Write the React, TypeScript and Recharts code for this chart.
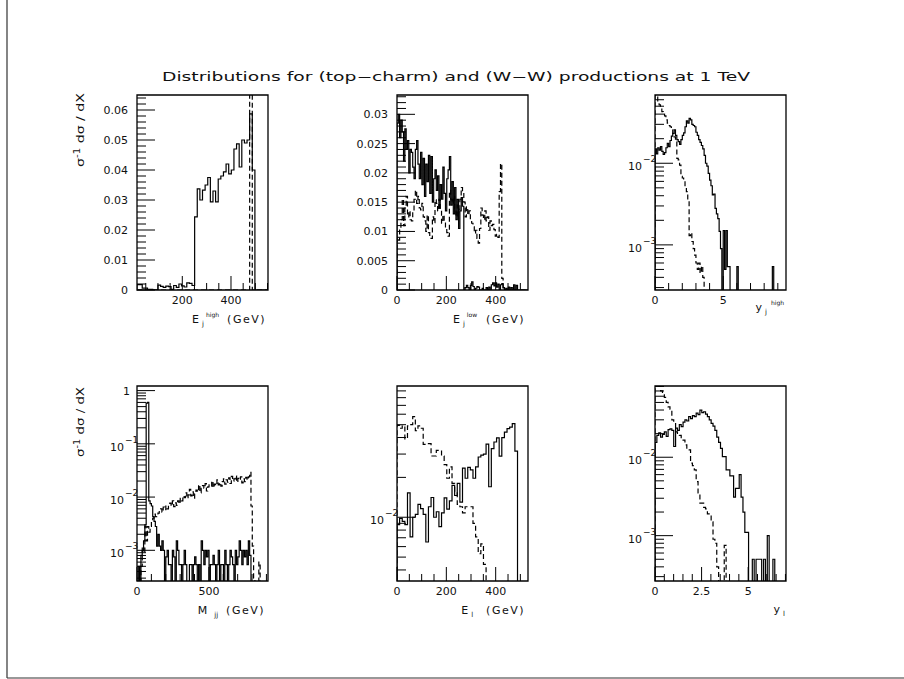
import React from 'react'
import { LineChart, Line, XAxis, YAxis, ReferenceArea } from 'recharts'

const FONT = 'DejaVu Sans, Verdana, sans-serif'

// dashed = (top-charm), solid = (W-W); values are bin contents

// E_j^high : 50 bins on [14, 552]
const ejHighRange: [number, number] = [14, 552]
const ejHighWW = [
  0.0018, 0.0018, 0.0006, 0.0006, 0.0002, 0.0002, 0, 0, 0.0016, 0.0012,
  0.0009, 0.0013, 0.0011, 0.0002, 0.0015, 0.0009, 0.002, 0.0014, 0.001, 0.0024,
  0.0022, 0.0015, 0.0244, 0.0337, 0.03, 0.0333, 0.035, 0.0375, 0.0294, 0.033,
  0.0294, 0.037, 0.038, 0.0394, 0.042, 0.0387, 0.04, 0.047, 0.0487, 0.041,
  0.05, 0.049, 0.05, 0.0587, 0.04, 0, 0, 0, 0, 0,
]
const ejHighTC = [
  0, 0, 0, 0, 0, 0, 0, 0, 0, 0,
  0, 0, 0, 0, 0, 0, 0, 0, 0, 0,
  0, 0, 0, 0, 0, 0, 0, 0, 0, 0,
  0, 0, 0, 0, 0, 0, 0, 0, 0, 0,
  0, 0, 0, 0.9, 0, 0, 0, 0, 0, 0,
]

// E_j^low : 100 bins on [0, 531]
const ejLowRange: [number, number] = [0, 531]
const ejLowWW = [
  0.0285, 0.03, 0.026, 0.029, 0.027, 0.022, 0.0275, 0.024, 0.0255, 0.02,
  0.024, 0.0235, 0.021, 0.019, 0.024, 0.0255, 0.0215, 0.019, 0.0235, 0.018,
  0.0225, 0.016, 0.0215, 0.0185, 0.023, 0.0165, 0.0228, 0.015, 0.019, 0.0205,
  0.017, 0.0195, 0.014, 0.018, 0.0155, 0.021, 0.0165, 0.0135, 0.019, 0.0205,
  0.0228, 0.0145, 0.0185, 0.013, 0.0175, 0.012, 0.0155, 0.0105, 0.0135, 0.0158,
  0.0143, 0, 0.0004, 0.0008, 0.0004, 0, 0.0008, 0.0014, 0.0006, 0,
  0.0003, 0.0006, 0.0005, 0, 0, 0.0003, 0, 0, 0.0004, 0,
  0.0005, 0, 0.0009, 0.0012, 0.0007, 0.0012, 0.0005, 0.001, 0, 0.0009,
  0.0011, 0.0004, 0, 0.0003, 0, 0.0005, 0, 0.0004, 0, 0.0009,
  0, 0.0008, 0, 0, 0, 0, 0, 0, 0, 0,
]
const ejLowTC = [
  0.009, 0.0085, 0.0105, 0.012, 0.0155, 0.011, 0.0145, 0.016, 0.0125, 0.0135,
  0.012, 0.0118, 0.0135, 0.0155, 0.017, 0.0148, 0.016, 0.014, 0.0137, 0.0148,
  0.0125, 0.0118, 0.01, 0.0128, 0.0098, 0.009, 0.0088, 0.0125, 0.0115, 0.0154,
  0.0148, 0.0135, 0.0155, 0.0137, 0.0114, 0.0128, 0.0118, 0.0105, 0.0098, 0.0092,
  0.017, 0.0155, 0.0148, 0.016, 0.0137, 0.0125, 0.0145, 0.0132, 0.0155, 0.0175,
  0.0168, 0.015, 0.0125, 0.0142, 0.0128, 0.0135, 0.0118, 0.0114, 0.0108, 0.0097,
  0.0102, 0.0088, 0.008, 0.0105, 0.014, 0.0128, 0.012, 0.0135, 0.0118, 0.0125,
  0.0102, 0.0118, 0.011, 0.0112, 0.0103, 0.0092, 0.0095, 0.009, 0.0168, 0.0216,
  0.002, 0, 0, 0, 0, 0, 0, 0, 0, 0,
  0, 0, 0, 0, 0, 0, 0, 0, 0, 0,
]

// y_j^high : 96 bins on [0, 9.6]
const yjHighRange: [number, number] = [0, 9.6]
const yjHighWW = [
  0.015, 0.013, 0.0155, 0.0145, 0.016, 0.014, 0.0128, 0.0135, 0.0155, 0.0175,
  0.016, 0.019, 0.0215, 0.0233, 0.0256, 0.022, 0.0195, 0.0184, 0.017, 0.0195,
  0.022, 0.0235, 0.028, 0.033, 0.031, 0.0355, 0.034, 0.03, 0.029, 0.028,
  0.024, 0.022, 0.0195, 0.018, 0.0165, 0.015, 0.0125, 0.01, 0.0092, 0.0075,
  0.0062, 0.0053, 0.0041, 0.0042, 0.0028, 0.0024, 0.0021, 0.00146, 0.0009, 0,
  0.0015, 0.0005, 0.0015, 0.00054, 0.00054, 0, 0, 0, 0, 0,
  0.00054, 0, 0, 0, 0, 0, 0, 0, 0, 0,
  0, 0, 0, 0, 0, 0, 0, 0, 0, 0,
  0, 0, 0, 0, 0, 0, 0.00054, 0, 0, 0,
  0, 0, 0, 0, 0, 0,
]
const yjHighTC = [
  0.068, 0.066, 0.058, 0.052, 0.047, 0.043, 0.04, 0.038, 0.034, 0.031,
  0.029, 0.028, 0.0256, 0.023, 0.021, 0.0193, 0.0115, 0.011, 0.0095, 0.0069,
  0.0066, 0.0062, 0.0052, 0.0045, 0.0035, 0.0013, 0.0014, 0.0011, 0.0009, 0.00075,
  0.0006, 0.0005, 0.0006, 0.00045, 0.00055, 0.0004, 0, 0, 0, 0,
  0, 0, 0, 0, 0, 0, 0, 0, 0, 0,
  0, 0, 0, 0, 0, 0, 0, 0, 0, 0,
  0, 0, 0, 0, 0, 0, 0, 0, 0, 0,
  0, 0, 0, 0, 0, 0, 0, 0, 0, 0,
  0, 0, 0, 0, 0, 0, 0, 0, 0, 0,
  0, 0, 0, 0, 0, 0,
]

// M_jj : 100 bins on [0, 911]
const mjjRange: [number, number] = [0, 911]
const mjjWW = [
  0, 0.0005, 0, 0.0008, 0.001, 0.0015, 0.003, 0.58, 0.6, 0.0085,
  0.0075, 0.0068, 0.0043, 0.0035, 0.0028, 0.0012, 0.002, 0.0012, 0.001, 0.0015,
  0.001, 0, 0.00075, 0.001, 0.00054, 0.00054, 0, 0.001, 0.00075, 0,
  0.0015, 0.001, 0.00054, 0.00054, 0, 0.00054, 0.001, 0.00054, 0, 0,
  0.00054, 0.00054, 0, 0.00054, 0.00075, 0.00054, 0, 0.00054, 0, 0.0015,
  0.001, 0.00054, 0.001, 0.00075, 0.001, 0, 0.00054, 0.00054, 0.0008, 0.00054,
  0, 0.00054, 0.001, 0, 0.00054, 0.00054, 0, 0.001, 0.00054, 0,
  0.00054, 0.001, 0.00075, 0.00054, 0, 0.001, 0.00054, 0.00075, 0.0015, 0.001,
  0.00054, 0.001, 0.00075, 0.001, 0.00054, 0.0015, 0.0008, 0, 0, 0,
  0, 0, 0, 0, 0, 0, 0, 0, 0, 0,
]
const mjjTC = [
  0, 0, 0, 0.0005, 0.0012, 0.0009, 0.0028, 0.0015, 0.0028, 0.0022,
  0.0028, 0.0035, 0.004, 0.0048, 0.0043, 0.0046, 0.005, 0.0055, 0.006, 0.0052,
  0.0065, 0.0058, 0.0068, 0.006, 0.0072, 0.0077, 0.0068, 0.0085, 0.0066, 0.0078,
  0.007, 0.0085, 0.0075, 0.0095, 0.0085, 0.0105, 0.0097, 0.012, 0.0095, 0.011,
  0.014, 0.0105, 0.0125, 0.0095, 0.0115, 0.0135, 0.0125, 0.017, 0.012, 0.0145,
  0.0165, 0.0147, 0.018, 0.013, 0.0155, 0.017, 0.016, 0.02, 0.015, 0.0175,
  0.0165, 0.021, 0.017, 0.0185, 0.016, 0.0195, 0.022, 0.0175, 0.021, 0.019,
  0.023, 0.018, 0.0245, 0.02, 0.022, 0.025, 0.019, 0.0225, 0.021, 0.024,
  0.0185, 0.022, 0.0195, 0.0235, 0.021, 0.024, 0.029, 0.0068, 0.0012, 0.0003,
  0, 0, 0, 0.0006, 0, 0, 0, 0, 0, 0,
]

// E_l : 50 bins on [0, 531]
const elRange: [number, number] = [0, 531]
const elWW = [
  0.0088, 0.0098, 0.0093, 0.0088, 0.0153, 0.0071, 0.01, 0.0105, 0.0125, 0.0116,
  0.0105, 0.0065, 0.012, 0.0141, 0.01, 0.011, 0.0085, 0.0108, 0.014, 0.0115,
  0.0133, 0.0174, 0.0146, 0.018, 0.013, 0.0235, 0.0197, 0.0238, 0.0228, 0.0197,
  0.024, 0.0285, 0.0295, 0.03, 0.0357, 0.017, 0.033, 0.037, 0.0398, 0.0289,
  0.04, 0.044, 0.0467, 0.048, 0.051, 0.0316, 0, 0, 0, 0,
]
const elTC = [
  0.0495, 0.047, 0.049, 0.039, 0.049, 0.05, 0.0575, 0.045, 0.049, 0.047,
  0.0355, 0.036, 0.036, 0.029, 0.029, 0.032, 0.032, 0.029, 0.025, 0.0197,
  0.024, 0.018, 0.0155, 0.0125, 0.012, 0.0108, 0.012, 0.012, 0.012, 0.009,
  0.0071, 0.0053, 0.0063, 0.0044, 0, 0, 0, 0, 0, 0,
  0, 0, 0, 0, 0, 0, 0, 0, 0, 0,
]

// y_l : 70 bins on [0, 7.03]
const ylRange: [number, number] = [0, 7.03]
const ylWW = [
  0.0155, 0.019, 0.0205, 0.018, 0.0195, 0.021, 0.0185, 0.0225, 0.023, 0.022,
  0.0137, 0.0235, 0.022, 0.026, 0.0245, 0.028, 0.03, 0.029, 0.033, 0.031,
  0.034, 0.033, 0.0365, 0.035, 0.04, 0.037, 0.038, 0.0355, 0.033, 0.03,
  0.027, 0.025, 0.022, 0.018, 0.0155, 0.013, 0.0102, 0.0102, 0.0069, 0.0069,
  0.0058, 0.0058, 0.0031, 0.004, 0.004, 0.006, 0.0031, 0.002, 0.0011, 0.0011,
  0, 0, 0.0005, 0, 0.0005, 0.0005, 0.0005, 0, 0.0005, 0,
  0.001, 0, 0, 0.0005, 0, 0, 0, 0, 0, 0,
]
const ylTC = [
  0.09, 0.088, 0.08, 0.07, 0.065, 0.058, 0.05, 0.044, 0.041, 0.03,
  0.028, 0.021, 0.0195, 0.019, 0.017, 0.0165, 0.0144, 0.0124, 0.0124, 0.0084,
  0.0078, 0.0069, 0.0049, 0.0035, 0.0026, 0.0026, 0.0023, 0.0022, 0.0019, 0.0019,
  0.0015, 0.0009, 0.0008, 0.0004, 0, 0, 0, 0.00075, 0, 0,
  0, 0, 0, 0, 0, 0, 0, 0, 0, 0,
  0, 0, 0, 0, 0, 0, 0, 0, 0, 0,
  0, 0, 0, 0, 0, 0, 0, 0, 0, 0,
]

// tick labels
const ejHighYLabels = [0, 0.01, 0.02, 0.03, 0.04, 0.05, 0.06]
const ejLowYLabels = [0, 0.005, 0.01, 0.015, 0.02, 0.025, 0.03]
const ejHighXLabels = [200, 400]
const ejLowXLabels = [0, 200, 400]
const yjHighXLabels = [0, 5]
const mjjXLabels = [0, 500]
const elXLabels = [0, 200, 400]
const ylXLabels = [0, 2.5, 5]

const FRAME_W = 131
const FRAME_H = 195

type Pt = { x: number; y: number }

function hist(values: number[], range: [number, number], floor: number): Pt[] {
  const w = (range[1] - range[0]) / values.length
  const pts: Pt[] = [{ x: range[0], y: floor }]
  values.forEach((v, i) => pts.push({ x: range[0] + i * w, y: v > 0 ? v : floor }))
  pts.push({ x: range[0] + values.length * w, y: floor })
  return pts
}

function steps(lo: number, hi: number, step: number) {
  const out: number[] = []
  for (let v = lo; v <= hi + 1e-9; v += step) out.push(Math.round(v * 1e6) / 1e6)
  return out
}

function logTicks(lo: number, hi: number) {
  const out: number[] = []
  for (let e = Math.floor(Math.log10(lo)); e <= Math.ceil(Math.log10(hi)); e++) {
    for (let k = 1; k <= 9; k++) {
      const v = k * Math.pow(10, e)
      if (v >= lo && v <= hi) out.push(v)
    }
  }
  return out
}

const near = (list: number[], v: number) => list.some((m) => Math.abs(m - v) < 1e-9)
const isDecade = (v: number) => Math.abs(Math.log10(v) - Math.round(Math.log10(v))) < 1e-6

type PanelProps = {
  left: number
  top: number
  xDomain: [number, number]
  yDomain: [number, number]
  log?: boolean
  xTicks: number[]
  xLabels: number[]
  yTicks: number[]
  yLabels?: number[]
  solid: number[]
  dashed: number[]
}

function Panel({ left, top, xDomain, yDomain, log, xTicks, xLabels, yTicks, yLabels, solid, dashed }: PanelProps) {
  const floor = log ? 1e-7 : 0

  const xTick = (p: any) => {
    const v = p.payload.value
    const major = near(xLabels, v)
    return (
      <g>
        <line x1={p.x} y1={p.y} x2={p.x} y2={p.y - (major ? 14 : 7)} stroke="#000" strokeWidth={1} />
        {major && (
          <text x={p.x} y={p.y + 14} textAnchor="middle" fontSize={11} fontFamily={FONT} fill="#111">
            {String(v)}
          </text>
        )}
      </g>
    )
  }

  const yTick = (p: any) => {
    const v = p.payload.value
    const major = log ? isDecade(v) : near(yLabels || [], v)
    let label: React.ReactNode = null
    if (major && !log) {
      label = (
        <text x={p.x - 9} y={p.y + 4} textAnchor="end" fontSize={11} fontFamily={FONT} fill="#111">
          {String(v)}
        </text>
      )
    } else if (major && log) {
      const e = Math.round(Math.log10(v))
      label =
        e === 0 ? (
          <text x={p.x - 7} y={p.y + 4} textAnchor="end" fontSize={11} fontFamily={FONT} fill="#111">1</text>
        ) : (
          <g fontFamily={FONT} fill="#111">
            <text x={p.x - 13} y={p.y + 7} textAnchor="end" fontSize={11}>10</text>
            <text x={p.x - 12} y={p.y - 1} fontSize={9}>{'\u2212' + -e}</text>
          </g>
        )
    }
    return (
      <g>
        <line x1={p.x} y1={p.y} x2={p.x + (major ? 18 : 9)} y2={p.y} stroke="#000" strokeWidth={1} />
        {label}
      </g>
    )
  }

  return (
    <div style={{ position: 'absolute', left: left - 60, top: top - 10 }}>
      <LineChart width={FRAME_W + 70} height={FRAME_H + 30} margin={{ top: 10, right: 10, bottom: 0, left: 0 }}>
        <XAxis
          type="number"
          dataKey="x"
          domain={xDomain}
          allowDataOverflow
          ticks={xTicks}
          interval={0}
          tick={xTick}
          tickLine={false}
          axisLine={false}
          tickSize={0}
          tickMargin={0}
          height={20}
        />
        <YAxis
          type="number"
          scale={log ? 'log' : 'linear'}
          domain={yDomain}
          allowDataOverflow
          ticks={yTicks}
          interval={0}
          tick={yTick}
          tickLine={false}
          axisLine={false}
          tickSize={0}
          tickMargin={0}
          width={60}
        />
        <Line
          data={hist(dashed, xDomain, floor)}
          dataKey="y"
          type="stepAfter"
          dot={false}
          stroke="#000"
          strokeWidth={1.2}
          strokeDasharray="5 3"
          isAnimationActive={false}
        />
        <Line
          data={hist(solid, xDomain, floor)}
          dataKey="y"
          type="stepAfter"
          dot={false}
          stroke="#000"
          strokeWidth={1.2}
          isAnimationActive={false}
        />
        <ReferenceArea
          x1={xDomain[0]}
          x2={xDomain[1]}
          y1={yDomain[0]}
          y2={yDomain[1]}
          fill="none"
          stroke="#000"
          strokeWidth={1.3}
          ifOverflow="visible"
        />
      </LineChart>
    </div>
  )
}

const txt = { fontFamily: FONT, fill: '#111' }

export default function App() {
  const ejHighY: [number, number] = [0, 0.065]
  const ejLowY: [number, number] = [0, 0.0333]
  const yjHighY: [number, number] = [0.00028, 0.0686]
  const mjjY: [number, number] = [0.000265, 1.22]
  const elY: [number, number] = [0.0033, 0.098]
  const ylY: [number, number] = [0.000264, 0.081]

  return (
    <div style={{ position: 'absolute', left: 0, top: 0, width: 904, height: 679, background: '#fff' }}>
      <Panel
        left={137}
        top={95}
        xDomain={ejHighRange}
        yDomain={ejHighY}
        xTicks={steps(50, 550, 50)}
        xLabels={ejHighXLabels}
        yTicks={steps(0, 0.064, 0.002)}
        yLabels={ejHighYLabels}
        solid={ejHighWW}
        dashed={ejHighTC}
      />
      <Panel
        left={397}
        top={95}
        xDomain={ejLowRange}
        yDomain={ejLowY}
        xTicks={steps(0, 500, 50)}
        xLabels={ejLowXLabels}
        yTicks={steps(0, 0.033, 0.001)}
        yLabels={ejLowYLabels}
        solid={ejLowWW}
        dashed={ejLowTC}
      />
      <Panel
        left={655}
        top={95}
        log
        xDomain={yjHighRange}
        yDomain={yjHighY}
        xTicks={steps(0, 9, 1)}
        xLabels={yjHighXLabels}
        yTicks={logTicks(yjHighY[0], yjHighY[1])}
        solid={yjHighWW}
        dashed={yjHighTC}
      />
      <Panel
        left={137}
        top={386}
        log
        xDomain={mjjRange}
        yDomain={mjjY}
        xTicks={steps(0, 900, 100)}
        xLabels={mjjXLabels}
        yTicks={logTicks(mjjY[0], mjjY[1])}
        solid={mjjWW}
        dashed={mjjTC}
      />
      <Panel
        left={397}
        top={386}
        log
        xDomain={elRange}
        yDomain={elY}
        xTicks={steps(0, 500, 50)}
        xLabels={elXLabels}
        yTicks={logTicks(elY[0], elY[1])}
        solid={elWW}
        dashed={elTC}
      />
      <Panel
        left={655}
        top={386}
        log
        xDomain={ylRange}
        yDomain={ylY}
        xTicks={steps(0, 7, 0.5)}
        xLabels={ylXLabels}
        yTicks={logTicks(ylY[0], ylY[1])}
        solid={ylWW}
        dashed={ylTC}
      />

      <svg width={904} height={679} style={{ position: 'absolute', left: 0, top: 0, pointerEvents: 'none' }}>
        <line x1={7} y1={0} x2={7} y2={678} stroke="#333" strokeWidth={1.2} />
        <line x1={7} y1={678} x2={904} y2={678} stroke="#333" strokeWidth={1.2} />

        <text x={456} y={81} textAnchor="middle" fontSize={12} textLength={588} lengthAdjust="spacingAndGlyphs" {...txt}>
          Distributions for (top−charm) and (W−W)  productions at 1 TeV
        </text>

        <text transform="translate(84,130) rotate(-90)" textAnchor="middle" fontSize={11} textLength={74} lengthAdjust="spacingAndGlyphs" {...txt}>
          σ<tspan dy={-4} fontSize={8}>-1</tspan><tspan dy={4}> dσ / dX</tspan>
        </text>
        <text transform="translate(84,422) rotate(-90)" textAnchor="middle" fontSize={11} textLength={70} lengthAdjust="spacingAndGlyphs" {...txt}>
          σ<tspan dy={-4} fontSize={8}>-1</tspan><tspan dy={4}> dσ / dX</tspan>
        </text>

        <text x={266} y={323} textAnchor="end" fontSize={11} {...txt}>
          E<tspan dx={3} dy={3} fontSize={7}>j</tspan>
          <tspan dx={2} dy={-9} fontSize={6}>high</tspan>
          <tspan dx={8} dy={6} letterSpacing={1.5}>(GeV)</tspan>
        </text>
        <text x={525} y={323} textAnchor="end" fontSize={11} {...txt}>
          E<tspan dx={3} dy={3} fontSize={7}>j</tspan>
          <tspan dx={2} dy={-9} fontSize={6}>low</tspan>
          <tspan dx={9} dy={6} letterSpacing={1.5}>(GeV)</tspan>
        </text>
        <text x={784} y={311} textAnchor="end" fontSize={11} {...txt}>
          y<tspan dx={3} dy={3} fontSize={7}>j</tspan>
          <tspan dx={4} dy={-9} fontSize={6}>high</tspan>
        </text>
        <text x={265} y={614} textAnchor="end" fontSize={11} {...txt}>
          M<tspan dx={7} dy={3} fontSize={7}>jj</tspan>
          <tspan dx={8} dy={-3} letterSpacing={1.5}>(GeV)</tspan>
        </text>
        <text x={525} y={614} textAnchor="end" fontSize={11} {...txt}>
          E<tspan dx={3} dy={3} fontSize={7}>l</tspan>
          <tspan dx={13} dy={-3} letterSpacing={1.5}>(GeV)</tspan>
        </text>
        <text x={785} y={613} textAnchor="end" fontSize={11} {...txt}>
          y<tspan dx={3} dy={3} fontSize={7}>l</tspan>
        </text>
      </svg>
    </div>
  )
}
